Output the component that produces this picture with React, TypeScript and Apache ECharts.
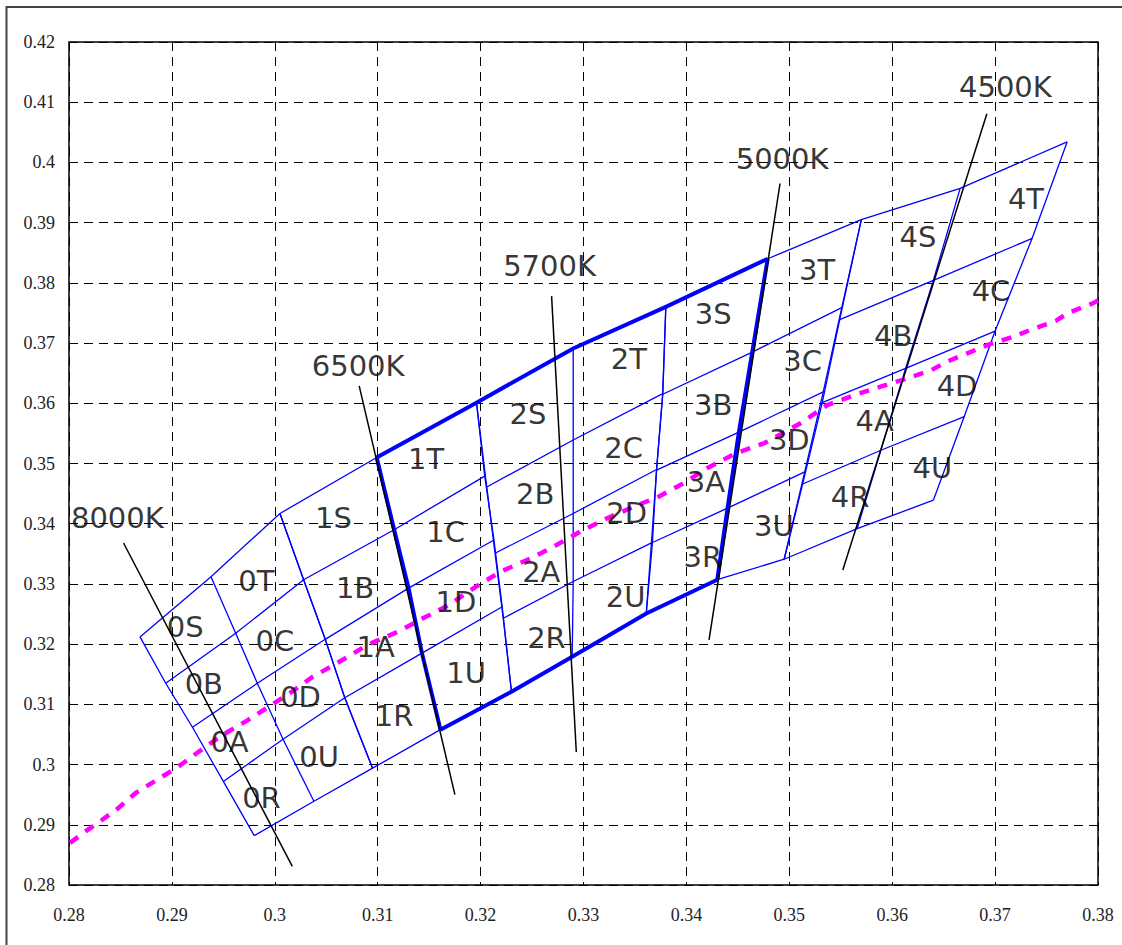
import React, { useEffect, useRef } from 'react';
import * as echarts from 'echarts';

// Axis ranges / ticks
const xRange = { min: 0.28, max: 0.38, interval: 0.01 };
const yRange = { min: 0.28, max: 0.42, interval: 0.01 };

// Bin groups: rows top→bottom (top edge, 3 dividers, bottom edge); each row [left, middle, right] (CIE x, y)
const group0 = [
  [[0.2869, 0.3212], [0.2938, 0.3312], [0.3005, 0.3417]],
  [[0.2894, 0.3135], [0.2962, 0.3218], [0.3028, 0.3307]],
  [[0.2920, 0.3062], [0.2983, 0.3135], [0.3049, 0.3208]],
  [[0.2950, 0.2972], [0.3008, 0.3042], [0.3068, 0.3111]],
  [[0.2980, 0.2882], [0.3038, 0.2939], [0.3095, 0.2994]],
];
const group1 = [
  [[0.3005, 0.3417], [0.3099, 0.3510], [0.3196, 0.3601]],
  [[0.3028, 0.3307], [0.3116, 0.3390], [0.3204, 0.3479]],
  [[0.3049, 0.3208], [0.3130, 0.3293], [0.3213, 0.3373]],
  [[0.3068, 0.3111], [0.3143, 0.3185], [0.3221, 0.3262]],
  [[0.3095, 0.2994], [0.3161, 0.3058], [0.3230, 0.3121]],
];
const group2 = [
  [[0.3196, 0.3601], [0.3290, 0.3691], [0.3380, 0.3760]],
  [[0.3206, 0.3461], [0.3290, 0.3539], [0.3377, 0.3616]],
  [[0.3214, 0.3351], [0.3290, 0.3417], [0.3371, 0.3490]],
  [[0.3222, 0.3243], [0.3290, 0.3304], [0.3367, 0.3369]],
  [[0.3230, 0.3121], [0.3289, 0.3179], [0.3361, 0.3251]],
];
const group3 = [
  [[0.3380, 0.3760], [0.3479, 0.3840], [0.3570, 0.3905]],
  [[0.3377, 0.3615], [0.3464, 0.3685], [0.3551, 0.3759]],
  [[0.3371, 0.3489], [0.3451, 0.3552], [0.3533, 0.3619]],
  [[0.3366, 0.3368], [0.3440, 0.3426], [0.3515, 0.3486]],
  [[0.3361, 0.3251], [0.3430, 0.3307], [0.3495, 0.3341]],
];
const group4 = [
  [[0.3570, 0.3905], [0.3666, 0.3957], [0.3770, 0.4034]],
  [[0.3549, 0.3739], [0.3640, 0.3804], [0.3736, 0.3874]],
  [[0.3532, 0.3601], [0.3613, 0.3658], [0.3700, 0.3720]],
  [[0.3513, 0.3466], [0.3589, 0.3522], [0.3670, 0.3578]],
  [[0.3495, 0.3341], [0.3566, 0.3392], [0.3640, 0.3439]],
];

// Blackbody (Planckian) locus
const planckian = [
  [0.2801, 0.2870], [0.2816, 0.2889], [0.2828, 0.2903], [0.2846, 0.2925], [0.2865, 0.2953],
  [0.2884, 0.2973], [0.2905, 0.2995], [0.2925, 0.3020], [0.2949, 0.3049], [0.2973, 0.3073],
  [0.2996, 0.3098], [0.3015, 0.3119], [0.3037, 0.3146], [0.3058, 0.3166], [0.3071, 0.3179],
  [0.3090, 0.3199], [0.3119, 0.3220], [0.3143, 0.3242], [0.3169, 0.3265], [0.3197, 0.3297],
  [0.3219, 0.3320], [0.3248, 0.3342], [0.3269, 0.3360], [0.3298, 0.3388], [0.3324, 0.3410],
  [0.3357, 0.3434], [0.3372, 0.3444], [0.3398, 0.3468], [0.3421, 0.3493], [0.3448, 0.3517],
  [0.3476, 0.3534], [0.3510, 0.3566], [0.3537, 0.3597], [0.3564, 0.3614], [0.3591, 0.3629],
  [0.3610, 0.3639], [0.3638, 0.3655], [0.3653, 0.3669], [0.3673, 0.3683], [0.3693, 0.3697],
  [0.3717, 0.3710], [0.3736, 0.3723], [0.3759, 0.3737], [0.3771, 0.3750], [0.3795, 0.3766],
  [0.3800, 0.3771],
];

// Isotherm (CCT) lines
const cctNames = ['8000K', '6500K', '5700K', '5000K', '4500K'];
const cctTop = [[0.2853, 0.3368], [0.3082, 0.3629], [0.3269, 0.3778], [0.3491, 0.3965], [0.3692, 0.4081]];
const cctBottom = [[0.3017, 0.2831], [0.3175, 0.2950], [0.3293, 0.3021], [0.3422, 0.3207], [0.3552, 0.3323]];
const cctLabelPos = [[0.2847, 0.3410], [0.3081, 0.3662], [0.3267, 0.3828], [0.3493, 0.4005], [0.3710, 0.4125]];

// Bin names and label positions
const binNames = [
  '0S', '0T', '0B', '0C', '0A', '0D', '0R', '0U',
  '1S', '1T', '1B', '1C', '1A', '1D', '1R', '1U',
  '2S', '2T', '2B', '2C', '2A', '2D', '2R', '2U',
  '3S', '3T', '3B', '3C', '3A', '3D', '3R', '3U',
  '4S', '4T', '4B', '4C', '4A', '4D', '4R', '4U',
];
const binLabelPos = [
  [0.2913, 0.3228], [0.2982, 0.3305], [0.2931, 0.3134], [0.3000, 0.3205], [0.2956, 0.3037], [0.3025, 0.3113], [0.2987, 0.2945], [0.3043, 0.3013],
  [0.3057, 0.3409], [0.3147, 0.3507], [0.3078, 0.3293], [0.3166, 0.3386], [0.3098, 0.3195], [0.3176, 0.3270], [0.3116, 0.3081], [0.3186, 0.3152],
  [0.3246, 0.3583], [0.3344, 0.3673], [0.3253, 0.3449], [0.3339, 0.3525], [0.3259, 0.3320], [0.3342, 0.3417], [0.3264, 0.3210], [0.3341, 0.3279],
  [0.3426, 0.3748], [0.3527, 0.3821], [0.3426, 0.3597], [0.3513, 0.3670], [0.3419, 0.3470], [0.3500, 0.3539], [0.3416, 0.3345], [0.3485, 0.3397],
  [0.3625, 0.3876], [0.3730, 0.3939], [0.3601, 0.3711], [0.3696, 0.3786], [0.3583, 0.3570], [0.3663, 0.3628], [0.3559, 0.3445], [0.3639, 0.3492],
];

const BLUE = '#0000ff';

function lineSeries(data: number[][], color: string, width: number, z: number, type: any = 'solid') {
  return {
    type: 'line',
    data,
    symbol: 'none',
    showSymbol: false,
    silent: true,
    z,
    lineStyle: { color, width, type, cap: 'butt', join: 'miter' },
    itemStyle: { color },
    emphasis: { disabled: true },
  };
}

const textLabel = {
  show: true,
  position: 'inside',
  formatter: '{b}',
  fontSize: 29,
  fontFamily: 'DejaVu Sans',
  color: '#000',
  textBorderWidth: 0,
  textBorderColor: 'transparent',
  textShadowBlur: 0,
};

export default function App() {
  const ref = useRef<HTMLDivElement>(null);
  useEffect(() => {
    if (!ref.current) return;
    const chart = echarts.init(ref.current, null, { renderer: 'svg' });
    const series: any[] = [];
    [group0, group1, group2, group3, group4].forEach((g) => {
      g.forEach((row) => series.push(lineSeries(row, BLUE, 1.3, 2)));
      for (let c = 0; c < 3; c++) series.push(lineSeries(g.map((r) => r[c]), BLUE, 1.3, 2));
    });
    // thick outline (6500K .. 5000K quadrangle)
    const thickTop = [group1[0][1], group1[0][2], group2[0][1], group2[0][2], group3[0][1]];
    const thickBottom = [group1[4][1], group1[4][2], group2[4][1], group2[4][2], group3[4][1]];
    series.push(lineSeries(thickTop, BLUE, 4, 3));
    series.push(lineSeries(thickBottom, BLUE, 4, 3));
    series.push(lineSeries(group1.map((r) => r[1]), BLUE, 4, 3));
    series.push(lineSeries(group3.map((r) => r[1]), BLUE, 4, 3));
    // planckian locus
    series.push(lineSeries(planckian, '#ff00ff', 4.5, 4, [10, 9]));
    // CCT lines
    cctNames.forEach((_, i) => series.push(lineSeries([cctTop[i], cctBottom[i]], '#000', 1.5, 5)));
    // CCT labels
    series.push({
      type: 'scatter',
      silent: true,
      z: 6,
      symbolSize: 1,
      itemStyle: { color: 'rgba(0,0,0,0)' },
      data: cctNames.map((n, i) => ({ name: n, value: cctLabelPos[i] })),
      label: textLabel,
    });
    // bin labels
    series.push({
      type: 'scatter',
      silent: true,
      z: 6,
      symbolSize: 1,
      itemStyle: { color: 'rgba(0,0,0,0)' },
      data: binNames.map((n, i) => ({ name: n, value: binLabelPos[i] })),
      label: textLabel,
    });

    const axisLabel = { fontSize: 18, fontFamily: 'Liberation Serif', color: '#222' };
    const splitLine = { show: true, lineStyle: { color: '#000', width: 1, type: [9, 6] } };
    chart.setOption({
      animation: false,
      backgroundColor: '#fff',
      grid: { left: 69, top: 42, right: 24, bottom: 60, show: true, borderColor: '#000', borderWidth: 1.5, backgroundColor: 'transparent' },
      xAxis: {
        type: 'value', min: xRange.min, max: xRange.max, interval: xRange.interval,
        axisLine: { show: false }, axisTick: { show: false },
        axisLabel: { ...axisLabel, margin: 21 },
        splitLine,
      },
      yAxis: {
        type: 'value', min: yRange.min, max: yRange.max, interval: yRange.interval,
        axisLine: { show: false }, axisTick: { show: false },
        axisLabel: { ...axisLabel, margin: 14 },
        splitLine,
      },
      graphic: [
        {
          type: 'rect', silent: true, z: -10,
          shape: { x: 6.5, y: 7, width: 1200, height: 1000 },
          style: { fill: 'none', stroke: '#444', lineWidth: 2 },
        },
      ],
      series,
    });
    return () => chart.dispose();
  }, []);
  return (
    <div
      ref={ref}
      style={{ position: 'fixed', left: 0, top: 0, width: 1122, height: 945, background: '#fff' }}
    />
  );
}
